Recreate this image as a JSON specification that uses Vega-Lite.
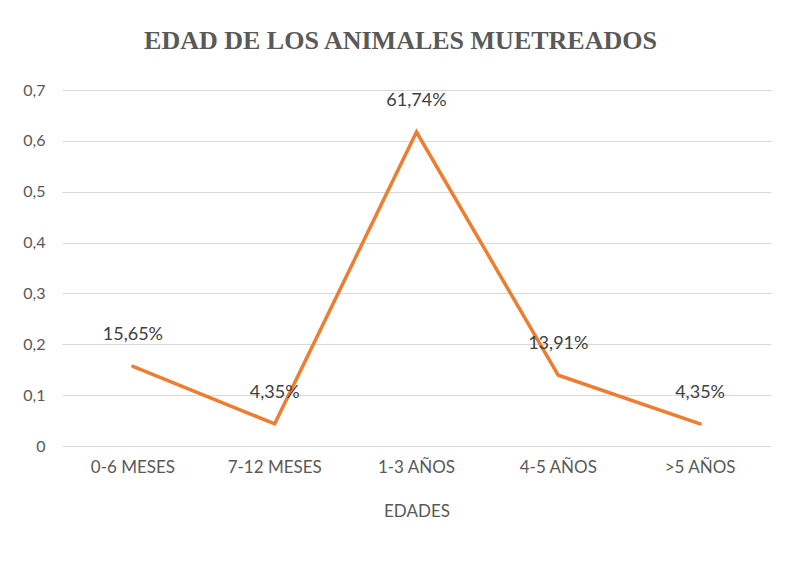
{
  "$schema": "https://vega.github.io/schema/vega-lite/v6.json",
  "autosize": "none",
  "width": 709,
  "height": 356,
  "padding": {"left": 62, "top": 90, "right": 23, "bottom": 117},
  "background": "white",
  "title": {
    "text": "EDAD DE LOS ANIMALES MUETREADOS",
    "font": "Liberation Serif",
    "fontSize": 26,
    "fontWeight": "bold",
    "color": "#595959",
    "anchor": "middle",
    "frame": "group",
    "dx": -16,
    "offset": 28
  },
  "data": {
    "values": [
      {"edad": "0-6 MESES", "valor": 0.1565, "etiqueta": "15,65%"},
      {"edad": "7-12 MESES", "valor": 0.0435, "etiqueta": "4,35%"},
      {"edad": "1-3 AÑOS", "valor": 0.6174, "etiqueta": "61,74%"},
      {"edad": "4-5 AÑOS", "valor": 0.1391, "etiqueta": "13,91%"},
      {"edad": ">5 AÑOS", "valor": 0.0435, "etiqueta": "4,35%"}
    ]
  },
  "encoding": {
    "x": {
      "field": "edad",
      "type": "nominal",
      "sort": ["0-6 MESES", "7-12 MESES", "1-3 AÑOS", "4-5 AÑOS", ">5 AÑOS"],
      "scale": {"type": "band", "paddingInner": 0, "paddingOuter": 0},
      "axis": {
        "title": "EDADES",
        "labelAngle": 0,
        "domain": false,
        "ticks": false,
        "labelPadding": 13,
        "labelFont": "Lato",
        "labelFontSize": 17,
        "labelColor": "#595959",
        "titleFont": "Lato",
        "titleFontSize": 17,
        "titleFontWeight": "normal",
        "titleColor": "#595959",
        "titlePadding": 28
      }
    },
    "y": {
      "field": "valor",
      "type": "quantitative",
      "scale": {"domain": [0, 0.7], "nice": false},
      "axis": {
        "title": null,
        "values": [0, 0.1, 0.2, 0.3, 0.4, 0.5, 0.6, 0.7],
        "labelExpr": "replace(format(datum.value, '~g'), '.', ',')",
        "domain": false,
        "ticks": false,
        "labelPadding": 17,
        "labelFont": "Lato",
        "labelFontSize": 16,
        "labelColor": "#595959",
        "gridColor": "#d9d9d9",
        "gridWidth": 1
      }
    }
  },
  "layer": [
    {
      "mark": {"type": "line", "color": "#ED7D31", "strokeWidth": 3.5, "strokeCap": "round"}
    },
    {
      "mark": {"type": "text", "dy": -31, "align": "center", "baseline": "middle", "font": "Lato", "fontSize": 18, "color": "#404040"},
      "encoding": {"text": {"field": "etiqueta", "type": "nominal"}}
    }
  ],
  "config": {"view": {"stroke": null}}
}
